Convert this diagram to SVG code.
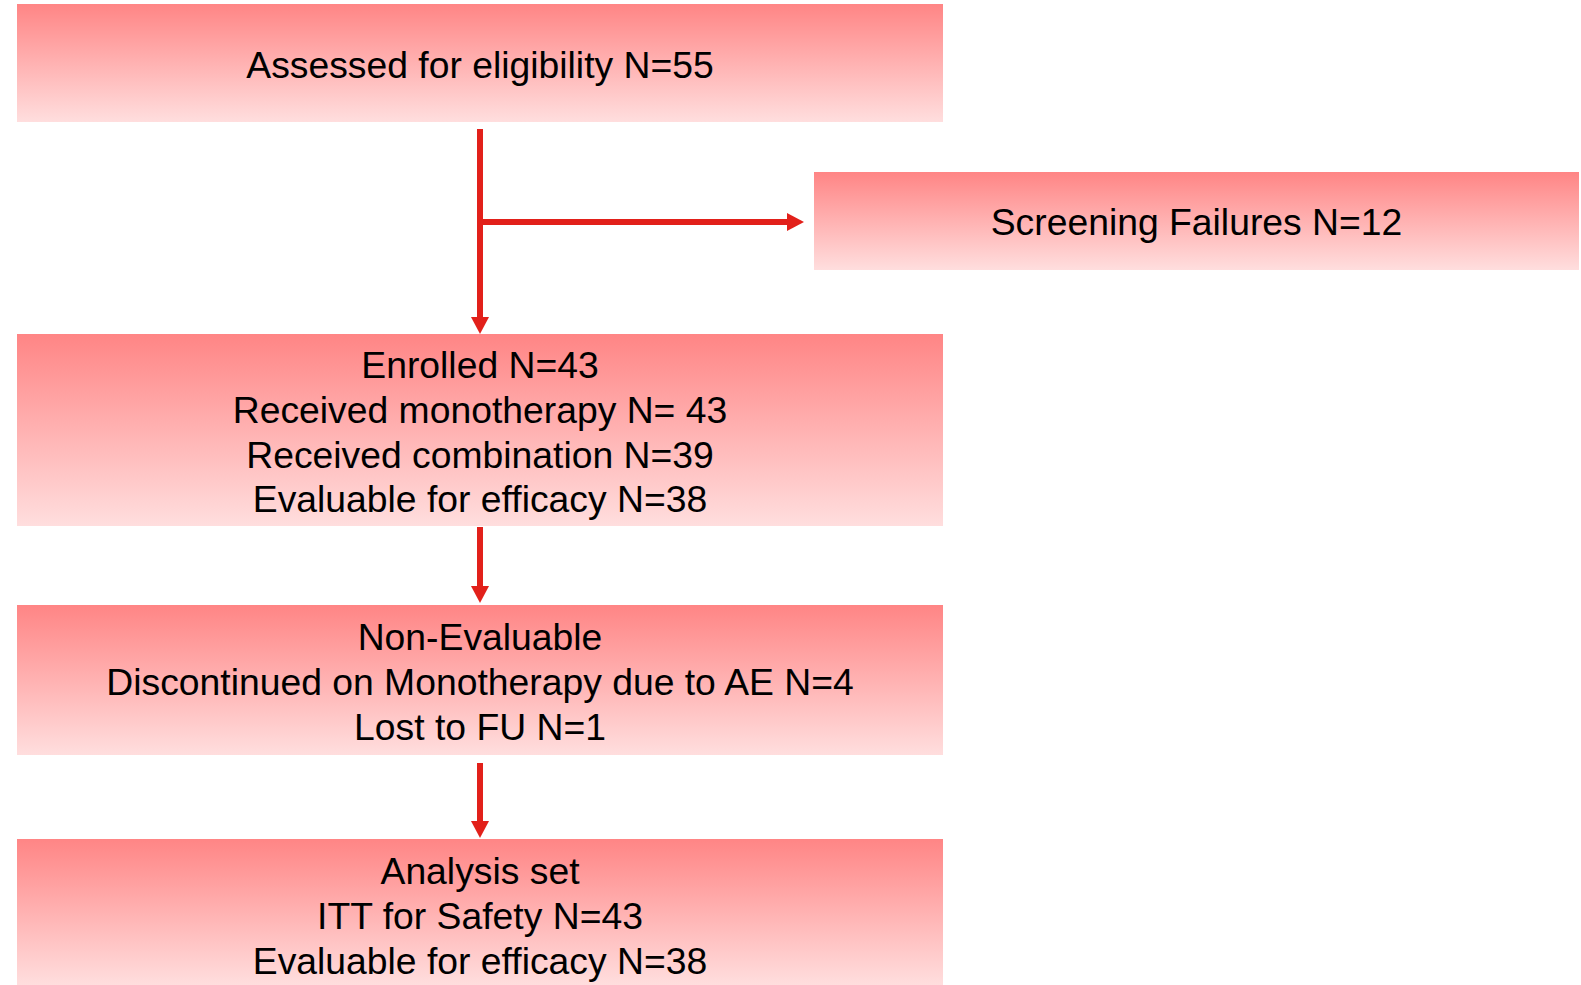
<svg xmlns="http://www.w3.org/2000/svg" width="1581" height="985" viewBox="0 0 1581 985">
<defs>
<linearGradient id="g" x1="0" y1="0" x2="0" y2="1">
<stop offset="0" stop-color="#FF8585"/>
<stop offset="1" stop-color="#FFDEDE"/>
</linearGradient>
<style>
.box{fill:url(#g);}
.t{font-family:"Liberation Sans",Arial,sans-serif;font-size:37.3px;fill:#000;text-anchor:middle;}
.c{stroke:#E2201A;stroke-width:6;fill:none;}
.h{fill:#E2201A;}
</style>
</defs>
<rect width="1581" height="985" fill="#fff"/>
<g id="assessed">
<rect class="box" x="17" y="4" width="926" height="118"/>
<text class="t" x="480" y="78">Assessed for eligibility N=55</text>
</g>
<g id="screening">
<rect class="box" x="814" y="172" width="765" height="98"/>
<text class="t" x="1196.5" y="235">Screening Failures N=12</text>
</g>
<g id="enrolled">
<rect class="box" x="17" y="334" width="926" height="192"/>
<text class="t" x="480" y="378">Enrolled N=43</text>
<text class="t" x="480" y="423">Received monotherapy N= 43</text>
<text class="t" x="480" y="468">Received combination N=39</text>
<text class="t" x="480" y="512">Evaluable for efficacy N=38</text>
</g>
<g id="nonevaluable">
<rect class="box" x="17" y="605" width="926" height="150"/>
<text class="t" x="480" y="650">Non-Evaluable</text>
<text class="t" x="480" y="695">Discontinued on Monotherapy due to AE N=4</text>
<text class="t" x="480" y="740">Lost to FU N=1</text>
</g>
<g id="analysis">
<rect class="box" x="17" y="839" width="926" height="146"/>
<text class="t" x="480" y="884">Analysis set</text>
<text class="t" x="480" y="929">ITT for Safety N=43</text>
<text class="t" x="480" y="974">Evaluable for efficacy N=38</text>
</g>
<g id="connectors">
<path class="c" d="M480,129 V317"/>
<path class="h" d="M471,317 L489,317 L480,334 Z"/>
<path class="c" d="M480,222 H787"/>
<path class="h" d="M787,213 L804,222 L787,231 Z"/>
<path class="c" d="M480,527 V586"/>
<path class="h" d="M471,586 L489,586 L480,603 Z"/>
<path class="c" d="M480,763 V821"/>
<path class="h" d="M471,821 L489,821 L480,838 Z"/>
</g>
</svg>
